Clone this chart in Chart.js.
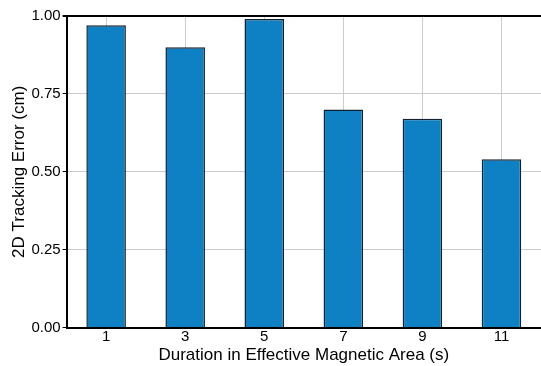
<!DOCTYPE html>
<html>
<head>
<meta charset="utf-8">
<script src="https://cdn.jsdelivr.net/npm/chart.js@4/dist/chart.umd.min.js"></script>
<style>
	html, body { margin: 0; padding: 0; background: #fff; }
	#wrap { width: 541px; height: 366px; position: relative; }
</style>
</head>
<body>
<div id="wrap"><canvas id="errorChart"></canvas></div>
<script>
const durations = ["1", "3", "5", "7", "9", "11"];
const trackingError = [0.97, 0.90, 0.99, 0.70, 0.67, 0.54];
const yTicks = [0, 0.25, 0.5, 0.75, 1];

const font = "'Liberation Sans', Arial, Helvetica, sans-serif";
const gridGrey = "#cccccc";
const ink = "#000";

new Chart(document.getElementById("errorChart"), {
	type: "bar",
	data: {
		labels: durations,
		datasets: [{
			data: trackingError,
			backgroundColor: "#0e80c4",
			borderColor: "#14212e",
			borderWidth: 1.5,
			barPercentage: 0.5,
			categoryPercentage: 1
		}]
	},
	options: {
		responsive: true,
		maintainAspectRatio: false,
		animation: false,
		layout: {
			padding: { top: 16, right: 0, bottom: 0, left: 9 }
		},
		plugins: {
			legend: { display: false },
			tooltip: { enabled: false }
		},
		scales: {
			x: {
				offset: true,
				grid: {
					offset: false,
					color: gridGrey,
					lineWidth: 1,
					drawTicks: false
				},
				border: { color: ink, width: 2 },
				ticks: {
					color: ink,
					font: { family: font, size: 15 },
					padding: 0,
					maxRotation: 0
				},
				title: {
					display: true,
					text: "Duration in Effective Magnetic Area (s)",
					color: ink,
					font: { family: font, size: 17 },
					padding: { top: 0, bottom: 0 }
				}
			},
			y: {
				min: 0,
				max: 1,
				afterBuildTicks: (axis) => {
					axis.ticks = yTicks.map((v) => ({ value: v }));
				},
				grid: {
					color: (ctx) => (ctx.tick && ctx.tick.value === 1 ? ink : gridGrey),
					lineWidth: (ctx) => (ctx.tick && ctx.tick.value === 1 ? 2 : 1),
					tickLength: 4,
					tickColor: ink
				},
				border: { color: ink, width: 2 },
				ticks: {
					color: ink,
					font: { family: font, size: 15 },
					padding: 2,
					callback: (v) => Number(v).toFixed(2)
				},
				title: {
					display: true,
					text: "2D Tracking Error (cm)",
					color: ink,
					font: { family: font, size: 17 },
					padding: { top: 0, bottom: 0 }
				}
			}
		}
	}
});
</script>
</body>
</html>
